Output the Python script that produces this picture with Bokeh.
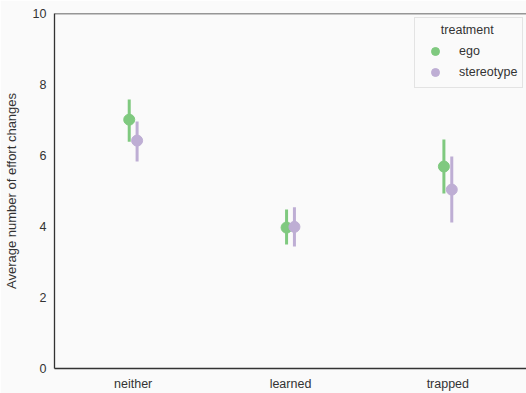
from bokeh.plotting import figure
from bokeh.models import ColumnDataSource, Legend, LegendItem, Span, FixedTicker
from bokeh.transform import dodge
from bokeh.embed import file_html
from bokeh.resources import INLINE

categories = ["neither", "learned", "trapped"]
ego_mean = [7.01, 3.97, 5.69]
ego_lo = [6.39, 3.49, 4.93]
ego_hi = [7.58, 4.48, 6.45]
stereo_mean = [6.42, 3.99, 5.04]
stereo_lo = [5.83, 3.44, 4.11]
stereo_hi = [6.96, 4.54, 5.97]
y_ticks = [0, 2, 4, 6, 8, 10]

GREEN = "#7fc97f"
PURPLE = "#beaed4"
BG = "#fafafa"
SPINE = "#333333"
TEXT = "#333333"
FONT = "Liberation Sans"

p = figure(x_range=categories, y_range=(0, 10), width=526, height=393,
           output_backend="svg", toolbar_location=None,
           background_fill_color=BG, border_fill_color=BG,
           min_border_left=53, min_border_right=0, min_border_top=13, min_border_bottom=25)
p.outline_line_color = None
p.xgrid.visible = False
p.ygrid.visible = False

src_e = ColumnDataSource(dict(cat=categories, m=ego_mean, lo=ego_lo, hi=ego_hi))
src_s = ColumnDataSource(dict(cat=categories, m=stereo_mean, lo=stereo_lo, hi=stereo_hi))

off = 0.025
p.segment(x0=dodge("cat", -off, range=p.x_range), y0="lo",
          x1=dodge("cat", -off, range=p.x_range), y1="hi",
          source=src_e, line_color=GREEN, line_width=3)
r_e = p.scatter(x=dodge("cat", -off, range=p.x_range), y="m", source=src_e,
                size=11, fill_color=GREEN, line_color=GREEN)
p.segment(x0=dodge("cat", off, range=p.x_range), y0="lo",
          x1=dodge("cat", off, range=p.x_range), y1="hi",
          source=src_s, line_color=PURPLE, line_width=3)
r_s = p.scatter(x=dodge("cat", off, range=p.x_range), y="m", source=src_s,
                size=11, fill_color=PURPLE, line_color=PURPLE)

p.add_layout(Span(location=10, dimension="width", line_color=SPINE, line_width=1.3))

for ax in (p.xaxis[0], p.yaxis[0]):
    ax.axis_line_color = SPINE
    ax.axis_line_width = 1.3
    ax.major_tick_line_color = None
    ax.minor_tick_line_color = None
    ax.major_tick_out = 0
    ax.major_tick_in = 0
    ax.minor_tick_out = 0
    ax.minor_tick_in = 0
    ax.major_label_text_font = FONT
    ax.major_label_text_font_size = "12.5px"
    ax.major_label_text_color = TEXT

p.yaxis.ticker = FixedTicker(ticks=y_ticks)
p.yaxis.major_label_standoff = 8
p.xaxis.major_label_standoff = 8
p.yaxis.axis_label = "Average number of effort changes"
p.yaxis.axis_label_text_font = FONT
p.yaxis.axis_label_text_font_size = "13px"
p.yaxis.axis_label_text_font_style = "normal"
p.yaxis.axis_label_text_color = TEXT
p.yaxis.axis_label_standoff = 11

legend = Legend(items=[LegendItem(label="ego", renderers=[r_e]),
                       LegendItem(label="stereotype", renderers=[r_s])],
                location=(360, 280), title="\u00a0" * 6 + "treatment",
                title_text_font=FONT, title_text_font_size="12.5px",
                title_text_font_style="normal", title_text_color=TEXT,
                title_standoff=4,
                label_text_font=FONT, label_text_font_size="12.5px",
                label_text_color=TEXT,
                border_line_color="#cccccc", border_line_width=1,
                background_fill_color=BG, background_fill_alpha=0.8,
                padding=5, spacing=1, label_standoff=9,
                glyph_width=30, glyph_height=20, label_height=20)
p.add_layout(legend, "center")

open("out.html", "w").write(file_html(p, INLINE))
